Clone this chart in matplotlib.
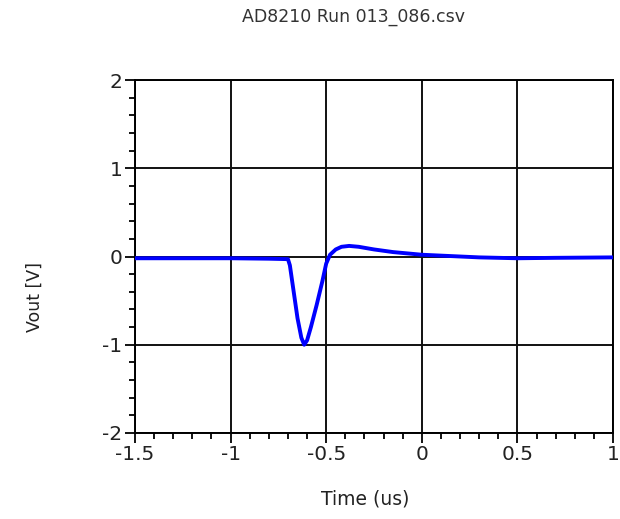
import matplotlib
matplotlib.use("Agg")
import matplotlib.pyplot as plt
from matplotlib.ticker import MultipleLocator

plt.rcParams['font.family'] = ['DejaVu Sans']

time_us = [-1.5, -1.2, -1.0, -0.8, -0.70, -0.69, -0.67, -0.65, -0.63, -0.615, -0.60,
           -0.58, -0.55, -0.52, -0.50, -0.48, -0.45, -0.42, -0.38, -0.33, -0.25,
           -0.15, -0.05, 0.0, 0.1, 0.3, 0.5, 0.7, 1.0]
vout = [-0.02, -0.02, -0.02, -0.025, -0.03, -0.10, -0.40, -0.70, -0.92, -1.0, -0.95,
        -0.80, -0.55, -0.28, -0.08, 0.02, 0.08, 0.11, 0.12, 0.11, 0.08,
        0.05, 0.03, 0.02, 0.01, -0.01, -0.02, -0.015, -0.01]

title = "AD8210 Run 013_086.csv"
xlabel = "Time (us)"
ylabel = "Vout [V]"
xticks = [-1.5, -1, -0.5, 0, 0.5, 1]
xticklabels = ["-1.5", "-1", "-0.5", "0", "0.5", "1"]
yticks = [-2, -1, 0, 1, 2]
yticklabels = ["-2", "-1", "0", "1", "2"]

W, H = 620, 519
fig = plt.figure(figsize=(W / 100, H / 100), dpi=100)
ax = fig.add_axes([135 / W, 1 - 433 / H, (613 - 135) / W, (433 - 80) / H])

ax.plot(time_us, vout, color='#0000ff', lw=2.8, zorder=3)
ax.set_xlim(-1.5, 1)
ax.set_ylim(-2, 2)
ax.set_xticks(xticks)
ax.set_xticklabels(xticklabels)
ax.set_yticks(yticks)
ax.set_yticklabels(yticklabels)
ax.xaxis.set_minor_locator(MultipleLocator(0.1))
ax.yaxis.set_minor_locator(MultipleLocator(0.2))
ax.grid(True, which='major', color='#111111', lw=1.4)
ax.tick_params(which='major', direction='out', length=7, width=1.3, labelsize=14.5,
               labelcolor='#222222', pad=2)
ax.tick_params(which='minor', direction='out', length=4, width=1.3)
for s in ax.spines.values():
    s.set_linewidth(1.4)

fig.text(354 / W, 1 - 17 / H, title, ha='center', va='center', fontsize=12.5, color='#333333')
fig.text(365 / W, 1 - 499 / H, xlabel, ha='center', va='center', fontsize=13.5, color='#222222')
fig.text(35 / W, 1 - 297 / H, ylabel, ha='center', va='center', fontsize=12.5, color='#222222',
         rotation=90)

fig.savefig("out.png", dpi=100)
